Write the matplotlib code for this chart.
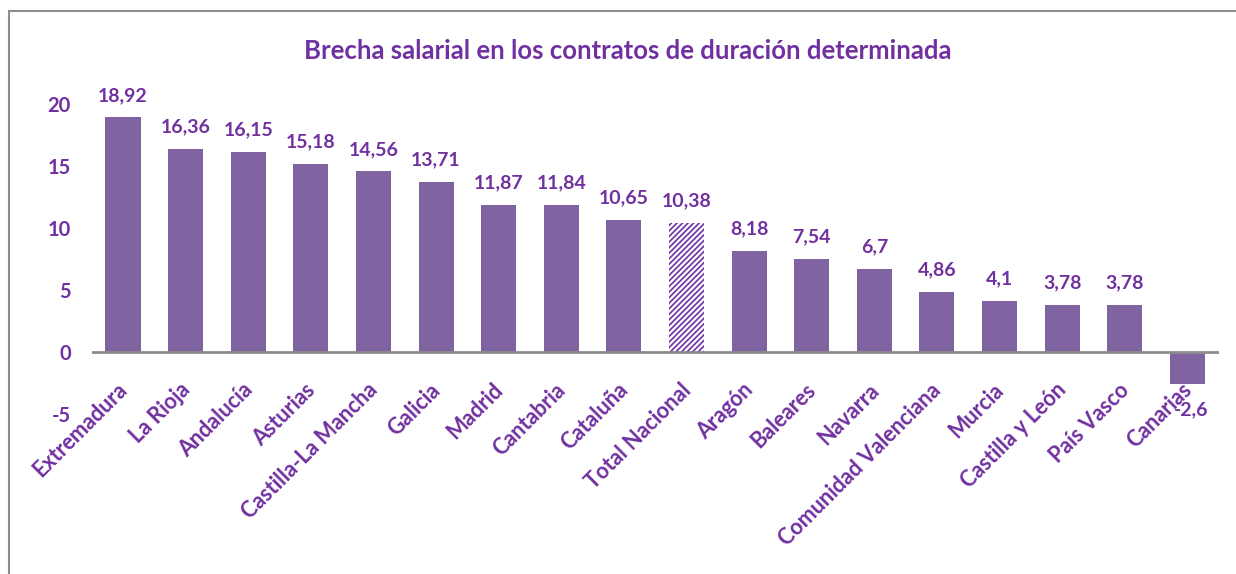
import matplotlib.pyplot as plt
from matplotlib.patches import Rectangle

regions = ['Extremadura', 'La Rioja', 'Andalucía', 'Asturias', 'Castilla-La Mancha',
           'Galicia', 'Madrid', 'Cantabria', 'Cataluña', 'Total Nacional', 'Aragón',
           'Baleares', 'Navarra', 'Comunidad Valenciana', 'Murcia', 'Castilla y León',
           'País Vasco', 'Canarias']
values = [18.92, 16.36, 16.15, 15.18, 14.56, 13.71, 11.87, 11.84, 10.65, 10.38,
          8.18, 7.54, 6.7, 4.86, 4.1, 3.78, 3.78, -2.6]
value_labels = ['18,92', '16,36', '16,15', '15,18', '14,56', '13,71', '11,87', '11,84',
                '10,65', '10,38', '8,18', '7,54', '6,7', '4,86', '4,1', '3,78', '3,78', '-2,6']
y_ticks = [-5, 0, 5, 10, 15, 20]

text_color = '#7030A0'
bar_color = '#8064A2'
font = 'Lato'

plt.rcParams['font.family'] = [font, 'DejaVu Sans']
plt.rcParams['hatch.linewidth'] = 1.2

fig = plt.figure(figsize=(12.36, 5.74), dpi=100)
ax = fig.add_axes([0.0742, 0.2787, 0.9117, 0.5401])

# outer frame (cut off at right and bottom like the screenshot)
fig.patches.append(Rectangle((9 / 1236, -0.1), 1.2, 1 - 11 / 574 + 0.1,
                             transform=fig.transFigure, fill=False,
                             edgecolor='#8c8c8c', linewidth=1.5))

for i, (reg, v) in enumerate(zip(regions, values)):
    if reg == 'Total Nacional':
        ax.bar(i, v, width=0.56, color='white', edgecolor=text_color,
               hatch='//////', linewidth=0)
    else:
        ax.bar(i, v, width=0.56, color=bar_color, linewidth=0)
    if v >= 0:
        ax.text(i, v + 1.1, value_labels[i], ha='center', va='bottom',
                fontsize=14, fontweight='bold', color=text_color)
    else:
        ax.text(i + 0.06, v - 1.4, value_labels[i], ha='center', va='top',
                fontsize=14, fontweight='bold', color=text_color)

ax.set_xlim(-0.5, len(regions) - 0.5)
ax.set_ylim(-5, 20)
ax.set_yticks(y_ticks)
ax.set_yticklabels([str(t) for t in y_ticks], fontsize=14.5, fontweight='bold', color=text_color)
ax.tick_params(axis='y', length=0, pad=15)

ax.set_xticks([])
for i, reg in enumerate(regions):
    ax.text(i - 0.1, -2.2, reg, rotation=45, ha='right', va='top',
            rotation_mode='anchor', fontsize=15.5, fontweight='bold', color=text_color)

for side in ['top', 'right', 'left', 'bottom']:
    ax.spines[side].set_visible(False)
ax.axhline(0, color='#8c8c8c', linewidth=2)

fig.text(0.508, 0.912, 'Brecha salarial en los contratos de duración determinada',
         ha='center', va='center', fontsize=18.5, fontweight='bold', color=text_color)

plt.savefig('out.png', dpi=100)
